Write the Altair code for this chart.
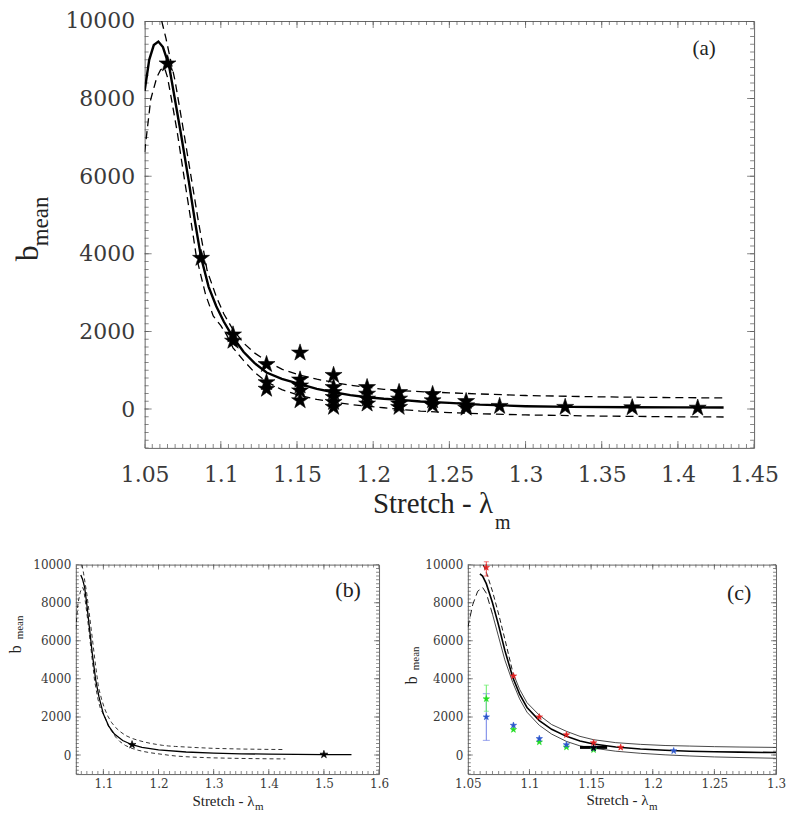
import altair as alt
import pandas as pd

STAR = ("M0,-1L0.2245,-0.309L0.951,-0.309L0.363,0.118L0.588,0.809L0,0.382"
        "L-0.588,0.809L-0.363,0.118L-0.951,-0.309L-0.2245,-0.309Z")
TICK_FONT = "DejaVu Serif"
TITLE_FONT = "Liberation Serif"
LABEL_COLOR = "#3a3a3a"
TICK_COLOR = "#555555"

# ---------------- panel (a) data ----------------
a_star_x = [1.065, 1.087, 1.108, 1.108, 1.130, 1.130, 1.130,
            1.152, 1.152, 1.152, 1.152, 1.152,
            1.174, 1.174, 1.174, 1.174, 1.174, 1.174,
            1.196, 1.196, 1.196, 1.196,
            1.217, 1.217, 1.217, 1.217,
            1.239, 1.239, 1.239,
            1.261, 1.261, 1.261,
            1.283, 1.326, 1.370, 1.413]
a_star_y = [8900, 3890, 1916, 1755, 1153, 687, 517,
            1450, 755, 602, 475, 220,
            873, 560, 433, 305, 178, 51,
            560, 390, 263, 136,
            433, 263, 136, 50,
            380, 220, 100,
            200, 90, 30,
            75, 50, 40, 30]

fit_x = [1.050, 1.053, 1.056, 1.059, 1.062, 1.066, 1.070, 1.074, 1.079, 1.083,
         1.087, 1.092, 1.097, 1.102, 1.108, 1.115, 1.122, 1.130, 1.140, 1.152,
         1.163, 1.174, 1.185, 1.196, 1.207, 1.218, 1.231, 1.250, 1.270, 1.300,
         1.330, 1.370, 1.400, 1.430]
fit_y = [8200, 9000, 9380, 9470, 9330, 8850, 7950, 7050, 5860, 4840,
         3910, 3150, 2650, 2250, 1850, 1470, 1190, 942, 780, 645,
         520, 433, 360, 305, 265, 238, 195, 160, 115, 75,
         58, 48, 44, 42]

upper_x = [1.0612, 1.064, 1.067, 1.070, 1.0757, 1.080, 1.085, 1.091, 1.097, 1.102,
           1.108, 1.115, 1.122, 1.130, 1.140, 1.152, 1.163, 1.174, 1.185, 1.196,
           1.207, 1.218, 1.231, 1.250, 1.270, 1.300, 1.350, 1.400, 1.430]
upper_y = [10000, 9550, 9000, 8450, 7130, 6100, 4900, 3570, 2900, 2450,
           2045, 1700, 1450, 1238, 1030, 873, 770, 687, 615, 560,
           510, 475, 450, 420, 390, 350, 315, 295, 288]

lower_x = [1.050, 1.054, 1.058, 1.0605, 1.063, 1.065, 1.068, 1.0714, 1.076, 1.080,
           1.084, 1.090, 1.095, 1.100, 1.104, 1.108, 1.115, 1.122, 1.130, 1.140,
           1.152, 1.163, 1.174, 1.185, 1.196, 1.207, 1.218, 1.231, 1.250, 1.270,
           1.300, 1.350, 1.400, 1.430]
lower_y = [6625, 7983, 8550, 8746, 8800, 8550, 7900, 7134, 5950, 4950,
           3912, 2950, 2400, 2150, 1900, 1578, 1250, 950, 704, 500,
           348, 250, 178, 120, 76, 35, -8, -51, -90, -119,
           -150, -180, -198, -204]

# ---------------- panel (b) data ----------------
b_fit_x = [1.059, 1.062, 1.066, 1.070, 1.075, 1.080, 1.086, 1.092, 1.100, 1.110,
           1.120, 1.135, 1.152, 1.170, 1.200, 1.250, 1.300, 1.350, 1.400, 1.450,
           1.500, 1.550]
b_fit_y = [9450, 9250, 8800, 7900, 6600, 5300, 3950, 3050, 2150, 1500,
           1100, 760, 540, 400, 270, 160, 100, 65, 45, 32,
           25, 20]
b_star_x = [1.152, 1.500]
b_star_y = [540, 30]

# ---------------- panel (c) data ----------------
c_mid_x = [1.0598, 1.062, 1.065, 1.070, 1.075, 1.080, 1.0865, 1.092, 1.098, 1.108,
           1.118, 1.130, 1.141, 1.152, 1.170, 1.190, 1.210, 1.230, 1.250, 1.270, 1.300]
c_mid_y = [9510, 9400, 9000, 8000, 6800, 5500, 4070, 3200, 2500, 1810,
           1350, 980, 740, 575, 420, 320, 250, 200, 170, 150, 130]
c_up_dash_x = [1.0625, 1.065, 1.070, 1.075, 1.080, 1.0865]
c_up_dash_y = [10000, 9600, 8600, 7400, 6100, 4340]
c_up_x = [1.0865, 1.092, 1.098, 1.108, 1.118, 1.130, 1.141, 1.152, 1.170, 1.190,
          1.210, 1.230, 1.250, 1.270, 1.300]
c_up_y = [4340, 3450, 2750, 2090, 1600, 1245, 980, 805, 650, 560,
          500, 470, 440, 420, 400]
c_lo_dash_x = [1.050, 1.054, 1.058, 1.062, 1.065, 1.070]
c_lo_dash_y = [6700, 7900, 8600, 8800, 8500, 7400]
c_lo_x = [1.070, 1.075, 1.080, 1.0865, 1.092, 1.098, 1.108, 1.118, 1.130, 1.141,
          1.152, 1.170, 1.190, 1.210, 1.230, 1.250, 1.270, 1.300]
c_lo_y = [7400, 6200, 5000, 3800, 2950, 2250, 1560, 1100, 715, 480,
          360, 200, 90, 10, -50, -100, -130, -170]

red_x = [1.065, 1.087, 1.108, 1.130, 1.152, 1.174]
red_y = [9850, 4150, 2000, 1060, 640, 400]
red_err_x = [1.065]
red_err_lo = [9400]
red_err_hi = [10150]

blue_x = [1.065, 1.087, 1.108, 1.130, 1.152, 1.217]
blue_y = [2000, 1560, 860, 540, 360, 220]
blue_err_x = [1.065]
blue_err_lo = [770]
blue_err_hi = [3220]

green_x = [1.065, 1.087, 1.108, 1.130, 1.152]
green_y = [2950, 1335, 680, 415, 275]
green_err_x = [1.065]
green_err_lo = [2300]
green_err_hi = [3670]

black_x = [1.152]
black_y = [370]
black_bar_lo = [1.141]
black_bar_hi = [1.163]
black_bar_y = [400]

# ---------------- axis ticks ----------------
a_xmajor = [1.05, 1.10, 1.15, 1.20, 1.25, 1.30, 1.35, 1.40, 1.45]
b_xmajor = [1.1, 1.2, 1.3, 1.4, 1.5, 1.6]
c_xmajor = [1.05, 1.10, 1.15, 1.20, 1.25, 1.30]
y_major = [0, 2000, 4000, 6000, 8000, 10000]


def steps(a, b, step):
    n = int(round((b - a) / step))
    return [round(a + i * step, 6) for i in range(n + 1)]


# ---------------- helpers ----------------
def xy(xv, yv):
    return pd.DataFrame({"x": xv, "y": yv})


def enc(xs, ys):
    return dict(x=alt.X("x:Q", scale=xs, axis=None),
                y=alt.Y("y:Q", scale=ys, axis=None))


def line(xv, yv, xs, ys, width, dash=None, color="black"):
    kw = dict(color=color, strokeWidth=width, clip=True)
    if dash:
        kw["strokeDash"] = dash
    return alt.Chart(xy(xv, yv)).mark_line(**kw).encode(**enc(xs, ys))


def stars(xv, yv, xs, ys, size, color="black"):
    return alt.Chart(xy(xv, yv)).mark_point(
        shape=STAR, filled=True, color=color, size=size, opacity=1,
        strokeWidth=0.6, stroke=color).encode(**enc(xs, ys))


def vbar(xv, lo, hi, xs, ys, color, cap):
    df = pd.DataFrame({"x": xv, "lo": lo, "hi": hi})
    rule = alt.Chart(df).mark_rule(color=color, strokeWidth=1).encode(
        x=alt.X("x:Q", scale=xs, axis=None),
        y=alt.Y("lo:Q", scale=ys, axis=None), y2="hi:Q")
    caps = []
    for f in ["lo", "hi"]:
        caps.append(alt.Chart(df).mark_tick(color=color, orient="horizontal",
                                             size=cap, thickness=1).encode(
            x=alt.X("x:Q", scale=xs, axis=None),
            y=alt.Y(f + ":Q", scale=ys, axis=None)))
    return [rule] + caps


def txt(s, x, y, size, angle=0, color="#222222", font=TITLE_FONT):
    return alt.Chart(pd.DataFrame({"t": [s]})).mark_text(
        font=font, fontSize=size, angle=angle, align="center",
        baseline="middle", color=color).encode(
        x=alt.value(x), y=alt.value(y), text="t:N")


def inward_ticks(W, H, xs, ys, xvals, yvals, L):
    out = []
    dx = pd.DataFrame({"x": xvals})
    dy = pd.DataFrame({"y": yvals})
    for yv in [0, H]:
        out.append(alt.Chart(dx).mark_tick(
            orient="vertical", size=2 * L, thickness=1, color=TICK_COLOR,
            clip=True).encode(x=alt.X("x:Q", scale=xs, axis=None),
                              y=alt.value(yv)))
    for xv in [0, W]:
        out.append(alt.Chart(dy).mark_tick(
            orient="horizontal", size=2 * L, thickness=1, color=TICK_COLOR,
            clip=True).encode(y=alt.Y("y:Q", scale=ys, axis=None),
                              x=alt.value(xv)))
    return out


def panel(W, H, xs, ys, xdom, ydom, xlab, xmaj, xmin_, ymin_, lab_fs,
          xpad, ypad, tmaj, tmin, content):
    carrier = pd.DataFrame({"x": [xdom[0]], "y": [ydom[0]]})
    lab_x = alt.Axis(values=xlab, format="~g", ticks=False, domain=False,
                     grid=False, labelFont=TICK_FONT, labelFontSize=lab_fs,
                     labelColor=LABEL_COLOR, labelPadding=xpad, title=None,
                     labelFlush=False, labelOverlap=False)
    lab_y = alt.Axis(values=y_major, format="d", ticks=False, domain=False,
                     grid=False, labelFont=TICK_FONT, labelFontSize=lab_fs,
                     labelColor=LABEL_COLOR, labelPadding=ypad, title=None,
                     labelFlush=False, labelOverlap=False)
    axes = alt.Chart(carrier).mark_point(opacity=0).encode(
        x=alt.X("x:Q", scale=xs, axis=lab_x),
        y=alt.Y("y:Q", scale=ys, axis=lab_y))
    ticks = (inward_ticks(W, H, xs, ys, xmaj, y_major, tmaj)
             + inward_ticks(W, H, xs, ys, xmin_, ymin_, tmin))
    return alt.layer(*([axes] + ticks + content)).resolve_axis(
        x="independent", y="independent").properties(width=W, height=H)


YDOM = [-1000, 10000]

# ---------------- panel (a) ----------------
AX0, AY0, AW, AH = 144, 19, 611, 428
a_xdom = [1.05, 1.45]
a_xs = alt.Scale(domain=a_xdom, nice=False, zero=False)
a_ys = alt.Scale(domain=YDOM, nice=False, zero=False)
a_content = [
    line(upper_x, upper_y, a_xs, a_ys, 1.3, [8, 5]),
    line(lower_x, lower_y, a_xs, a_ys, 1.3, [8, 5]),
    line(fit_x, fit_y, a_xs, a_ys, 2.4),
    stars(a_star_x, a_star_y, a_xs, a_ys, 320),
    txt("b", 27 - AX0, 252 - AY0, 32, 270),
    txt("mean", 40 - AX0, 220 - AY0, 23, 270),
    txt("Stretch - λ", 433 - AX0, 503 - AY0, 29),
    txt("m", 503 - AX0, 522 - AY0, 20),
    txt("(a)", 705 - AX0, 47 - AY0, 21),
]
pa = panel(AW, AH, a_xs, a_ys, a_xdom, YDOM, a_xmajor, a_xmajor,
           steps(1.05, 1.45, 0.005), steps(-1000, 10000, 200),
           22, 17, 10, 7, 4, a_content)

# ---------------- panel (b) ----------------
BX0, BY0, BW, BH = 75, 564, 304, 210
b_xdom = [1.05, 1.6]
b_xs = alt.Scale(domain=b_xdom, nice=False, zero=False)
b_ys = alt.Scale(domain=YDOM, nice=False, zero=False)
b_content = [
    line(upper_x, upper_y, b_xs, b_ys, 0.8, [4, 3]),
    line(lower_x, lower_y, b_xs, b_ys, 0.8, [4, 3]),
    line(b_fit_x, b_fit_y, b_xs, b_ys, 1.3),
    stars(b_star_x, b_star_y, b_xs, b_ys, 70),
    txt("b", 15.5 - BX0, 649 - BY0, 16, 270),
    txt("mean", 19.5 - BX0, 627 - BY0, 11, 270),
    txt("Stretch - λ", 223 - BX0, 801 - BY0, 15),
    txt("m", 259 - BX0, 807 - BY0, 11),
    txt("(b)", 348 - BX0, 589 - BY0, 22),
]
pb = panel(BW, BH, b_xs, b_ys, b_xdom, YDOM, b_xmajor, b_xmajor,
           steps(1.05, 1.6, 0.01), steps(-1000, 10000, 200),
           12, 4, 5, 5, 3, b_content)

# ---------------- panel (c) ----------------
CX0, CY0, CW, CH = 468, 564, 309, 210
c_xdom = [1.05, 1.3]
c_xs = alt.Scale(domain=c_xdom, nice=False, zero=False)
c_ys = alt.Scale(domain=YDOM, nice=False, zero=False)
c_content = (
    [line(c_up_dash_x, c_up_dash_y, c_xs, c_ys, 0.9, [5, 3]),
     line(c_up_x, c_up_y, c_xs, c_ys, 0.9, None, "#333333"),
     line(c_lo_dash_x, c_lo_dash_y, c_xs, c_ys, 0.9, [7, 4]),
     line(c_lo_x, c_lo_y, c_xs, c_ys, 0.9, None, "#333333"),
     line(c_mid_x, c_mid_y, c_xs, c_ys, 1.6)]
    + vbar(blue_err_x, blue_err_lo, blue_err_hi, c_xs, c_ys, "#6f7fe6", 7)
    + vbar(green_err_x, green_err_lo, green_err_hi, c_xs, c_ys, "#66ee66", 5)
    + vbar(red_err_x, red_err_lo, red_err_hi, c_xs, c_ys, "#ee4444", 5)
    + [alt.Chart(pd.DataFrame({"lo": black_bar_lo, "hi": black_bar_hi,
                               "y": black_bar_y})).mark_rule(
        color="black", strokeWidth=3).encode(
        x=alt.X("lo:Q", scale=c_xs, axis=None), x2="hi:Q",
        y=alt.Y("y:Q", scale=c_ys, axis=None)),
       stars(green_x, green_y, c_xs, c_ys, 45, "#22dd22"),
       stars(blue_x, blue_y, c_xs, c_ys, 45, "#2a55cc"),
       stars(red_x, red_y, c_xs, c_ys, 45, "#e02020"),
       stars(black_x, black_y, c_xs, c_ys, 45, "black"),
       txt("b", 412 - CX0, 680 - CY0, 16, 270),
       txt("mean", 416 - CX0, 658 - CY0, 11, 270),
       txt("Stretch - λ", 618 - CX0, 800 - CY0, 15),
       txt("m", 654 - CX0, 807 - CY0, 11),
       txt("(c)", 740 - CX0, 592 - CY0, 22)]
)
pc = panel(CW, CH, c_xs, c_ys, c_xdom, YDOM, c_xmajor, c_xmajor,
           steps(1.05, 1.3, 0.005), steps(-1000, 10000, 200),
           12, 4, 5, 5, 3, c_content)

spacer = alt.Chart(pd.DataFrame({"v": [0]})).mark_point(opacity=0).encode(
    x=alt.value(0), y=alt.value(0)).properties(
    width=AX0 - BX0, height=AH, view=alt.ViewBackground(strokeOpacity=0))

# with flush bounds a nested concat row counts as zero height, so the
# vertical spacing is the full offset between the two rows' plot tops
top = alt.hconcat(spacer, pa, spacing=0, bounds="flush")
bottom = alt.hconcat(pb, pc, spacing=CX0 - BX0 - BW, bounds="flush")
chart = alt.vconcat(top, bottom, spacing=BY0 - AY0,
                    bounds="flush").properties(
    padding=0).configure_view(stroke="#666666", strokeWidth=1)

chart.save("out.html", embed_options={"renderer": "svg", "actions": False})
